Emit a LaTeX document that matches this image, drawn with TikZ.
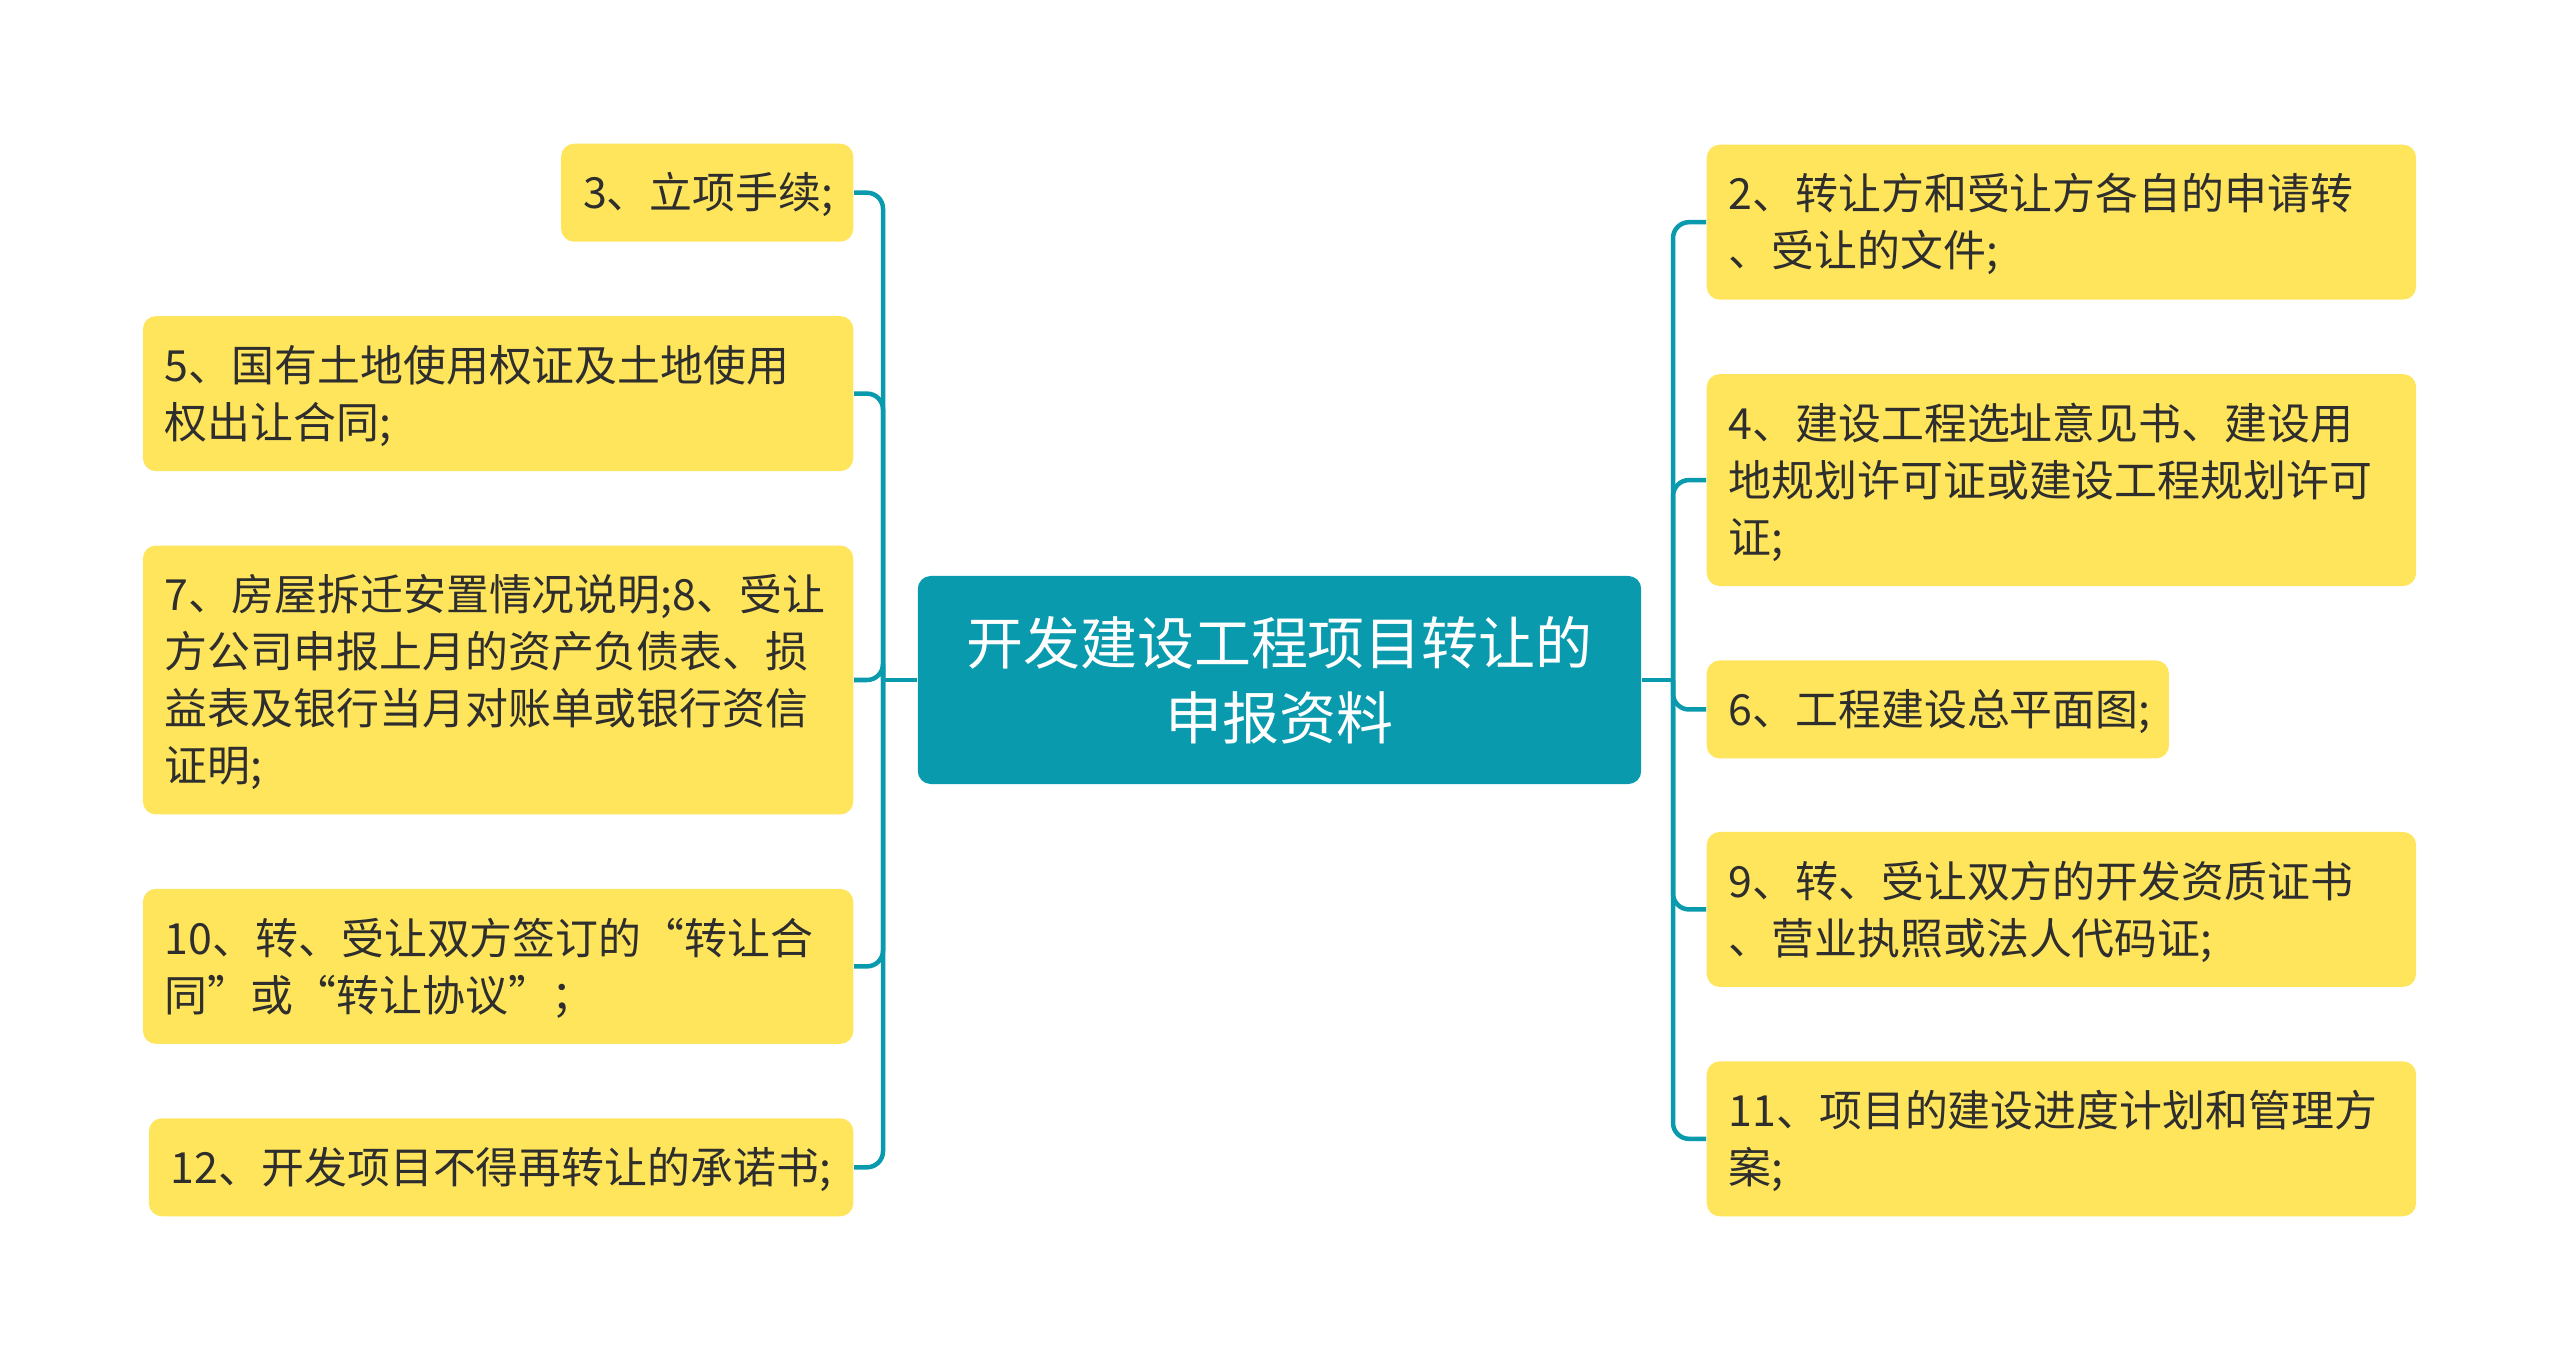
\documentclass[tikz,border=0pt]{standalone}
\usepackage{fontspec}
\setmainfont{Noto Sans CJK SC}
\usetikzlibrary{positioning}
\definecolor{trunk}{HTML}{0A9AAD}
\definecolor{leaf}{HTML}{FFE55C}
\definecolor{ink}{HTML}{2E2E2E}
\newcommand{\linestrut}{\vrule height 12.7pt depth 3.5pt width 0pt}

\begin{document}
\begin{tikzpicture}[
x=0.01cm, y=-0.01cm,
root/.style={fill=trunk, rounded corners=0.13cm, minimum width=7.23cm, minimum height=2.08cm, align=center, text=white, font=\fontsize{16.2pt}{21.3pt}\selectfont},
item/.style={fill=leaf, rounded corners=0.13cm, inner xsep=0.22cm, inner ysep=0.205cm, text width=#1, align=left, text=ink, font=\fontsize{12.2pt}{16.2pt}\selectfont, execute at begin node=\linestrut, execute at end node=\linestrut},
item/.default=6.66cm,
link/.style={draw=trunk, line width=0.045cm, rounded corners=0.16cm}
]
\useasboundingbox (0,0) rectangle (2560,1361);

\node[root] (root) at (1279.5,680) {开发建设工程项目转让的\\申报资料};

% left side
\node[item, anchor=east] (n7) at (854,680) {7、房屋拆迁安置情况说明;8、受让\\方公司申报上月的资产负债表、损\\益表及银行当月对账单或银行资信\\证明;};
\node[item, above=0.73cm of n7.north east, anchor=south east] (n5) {5、国有土地使用权证及土地使用\\权出让合同;};
\node[item=2.48cm, above=0.73cm of n5.north east, anchor=south east] (n3) {3、立项手续;};
\node[item, below=0.73cm of n7.south east, anchor=north east] (n10) {10、转、受让双方签订的“转让合\\同”或“转让协议”；};
\node[item=6.60cm, below=0.73cm of n10.south east, anchor=north east] (n12) {12、开发项目不得再转让的承诺书;};

% right side
\node[item=6.65cm, anchor=north west] (n2) at (1706,144) {2、转让方和受让方各自的申请转\\、受让的文件;};
\node[item=6.65cm, below=0.73cm of n2.south west, anchor=north west] (n4) {4、建设工程选址意见书、建设用\\地规划许可证或建设工程规划许可\\证;};
\node[item=4.18cm, below=0.73cm of n4.south west, anchor=north west] (n6) {6、工程建设总平面图;};
\node[item=6.65cm, below=0.72cm of n6.south west, anchor=north west] (n9) {9、转、受让双方的开发资质证书\\、营业执照或法人代码证;};
\node[item=6.65cm, below=0.73cm of n9.south west, anchor=north west] (n11) {11、项目的建设进度计划和管理方\\案;};

\coordinate (lfork) at (883,680);
\coordinate (rfork) at (1673,680);

\draw[link] (root.west) -- (lfork);
\foreach \n in {n3,n5,n7,n10,n12}
  \draw[link] (lfork) |- (\n.east);
\draw[link] (root.east) -- (rfork);
\foreach \n in {n2,n4,n6,n9,n11}
  \draw[link] (rfork) |- (\n.west);

\end{tikzpicture}
\end{document}
